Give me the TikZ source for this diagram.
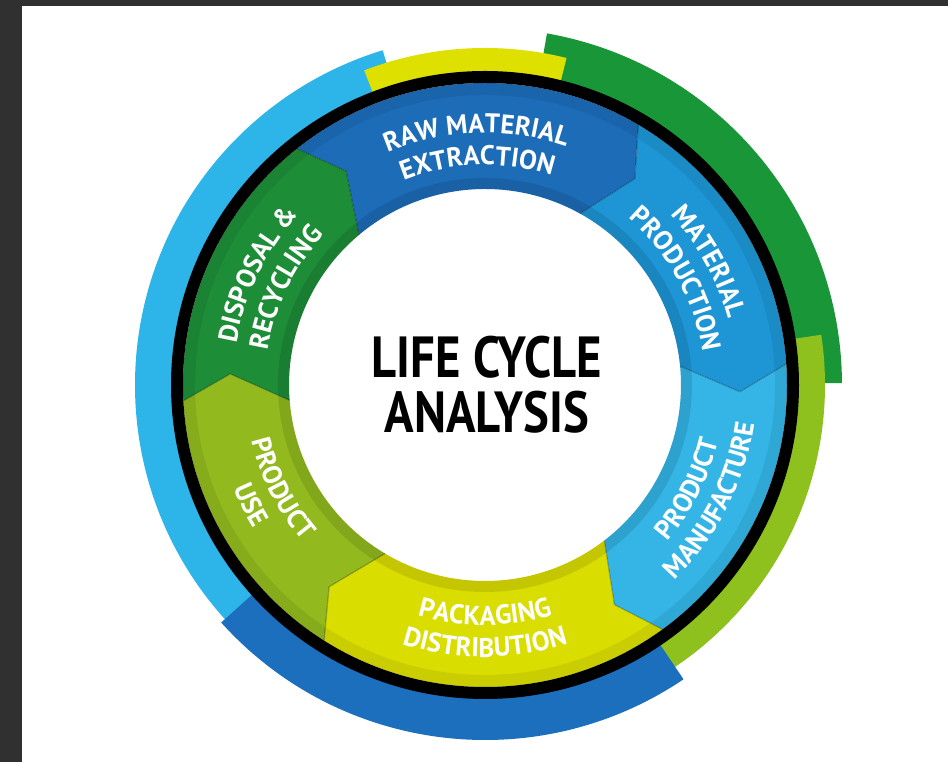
\documentclass[tikz,border=0pt]{standalone}
\usepackage{fontspec}
\setmainfont{PT Sans}
\newfontfamily\labfont[FakeStretch=0.99]{PT Sans}
\newfontfamily\titfont[FakeStretch=0.84]{PT Sans}
\usetikzlibrary{decorations.text}
\definecolor{cRaw}{RGB}{28,108,184}
\definecolor{cMat}{RGB}{30,150,214}
\definecolor{cMan}{RGB}{52,181,230}
\definecolor{cPack}{RGB}{218,221,0}
\definecolor{cUse}{RGB}{146,186,30}
\definecolor{cDis}{RGB}{30,141,56}
\definecolor{oLB}{RGB}{45,180,232}
\definecolor{oYel}{RGB}{222,224,0}
\definecolor{oGrn}{RGB}{25,150,56}
\definecolor{oLim}{RGB}{142,192,30}
\definecolor{oDB}{RGB}{27,111,189}
\definecolor{frameclr}{RGB}{48,48,48}
\newcommand\labsty{\labfont\bfseries\fontsize{27pt}{27pt}\selectfont\color{white}}
\newcommand\band[4]{\fill[#1] (#2:312pt) arc[start angle=#2, end angle=#3, radius=312pt] -- (#3:#4) arc[start angle=#3, end angle=#2, radius=#4] -- cycle;}
\newcommand\chev[3]{\fill[#1] (#2:302pt) arc[start angle=#2, end angle=#3, radius=302pt] -- ({#3-5.5}:255pt) -- ({#3+1.5}:196pt) arc[start angle={#3+1.5}, end angle={#2+1.5}, radius=196pt] -- ({#2-5.5}:255pt) -- cycle;}
\newcommand\chevline[1]{\draw[sepline] (#1:302pt) -- ({#1-5.5}:255pt) -- ({#1+1.5}:196pt);}
\newcommand\cwtext[3]{\path[decorate, decoration={text along path, text align=center, text={|\labsty|#3}}] ({#1+45}:#2) arc[start angle={#1+45}, end angle={#1-45}, radius=#2];}
\newcommand\ccwtext[3]{\path[decorate, decoration={text along path, text align=center, text={|\labsty|#3}}] ({#1-45}:#2) arc[start angle={#1-45}, end angle={#1+45}, radius=#2];}
\tikzset{sepline/.style={draw=black, draw opacity=0.25, line width=1.2pt, line join=miter}}
\begin{document}
\begin{tikzpicture}[x=1pt,y=1pt]
\useasboundingbox (0,0) rectangle (948,762);
\fill[frameclr] (0,0) rectangle (948,762);
\fill[white] (22,0) rectangle (948,756);
\begin{scope}[shift={(485,377)}]
% outer arcs
\band{oGrn}{0.3}{80}{357pt}
\band{oLB}{107}{224}{350pt}
\band{oLim}{-57}{8.5}{340pt}
\band{oYel}{76}{111}{337pt}
\band{oDB}{-138}{-56}{355pt}
% segments
\chev{cRaw}{128.5}{59.5}
\chev{cMat}{59.5}{4}
\chev{cMan}{4}{-54}
\chev{cPack}{-54}{-122.2}
\chev{cUse}{237.8}{183}
\chev{cDis}{183}{128.5}
% bevel bands
\fill[black, opacity=0.10, even odd rule] (0,0) circle[radius=207pt] (0,0) circle[radius=196pt];
\fill[black, opacity=0.07, even odd rule] (0,0) circle[radius=302pt] (0,0) circle[radius=290pt];
\chevline{59.5}
\chevline{4}
\chevline{-54}
\chevline{-122.2}
\chevline{183}
\chevline{128.5}
% black ring
\draw[line width=12pt, black] (0,0) circle[radius=308pt];
% labels
\cwtext{92}{252pt}{RAW MATERIAL}
\cwtext{92}{220pt}{EXTRACTION}
\cwtext{29}{252pt}{MATERIAL}
\cwtext{29}{220pt}{PRODUCTION}
\cwtext{154}{252pt}{DISPOSAL {\&}}
\cwtext{154}{220pt}{RECYCLING}
\ccwtext{-27}{240pt}{PRODUCT}
\ccwtext{-27}{272pt}{MANUFACTURE}
\ccwtext{-90}{240pt}{PACKAGING}
\ccwtext{-90}{272pt}{DISTRIBUTION}
\ccwtext{207}{240pt}{PRODUCT}
\ccwtext{207}{272pt}{USE}
\node[font=\titfont\bfseries\fontsize{58pt}{55pt}\selectfont, align=center, text=black, inner sep=0pt] (title) at (2,0) {LIFE CYCLE\\ANALYSIS};
\end{scope}
\end{tikzpicture}
\end{document}
